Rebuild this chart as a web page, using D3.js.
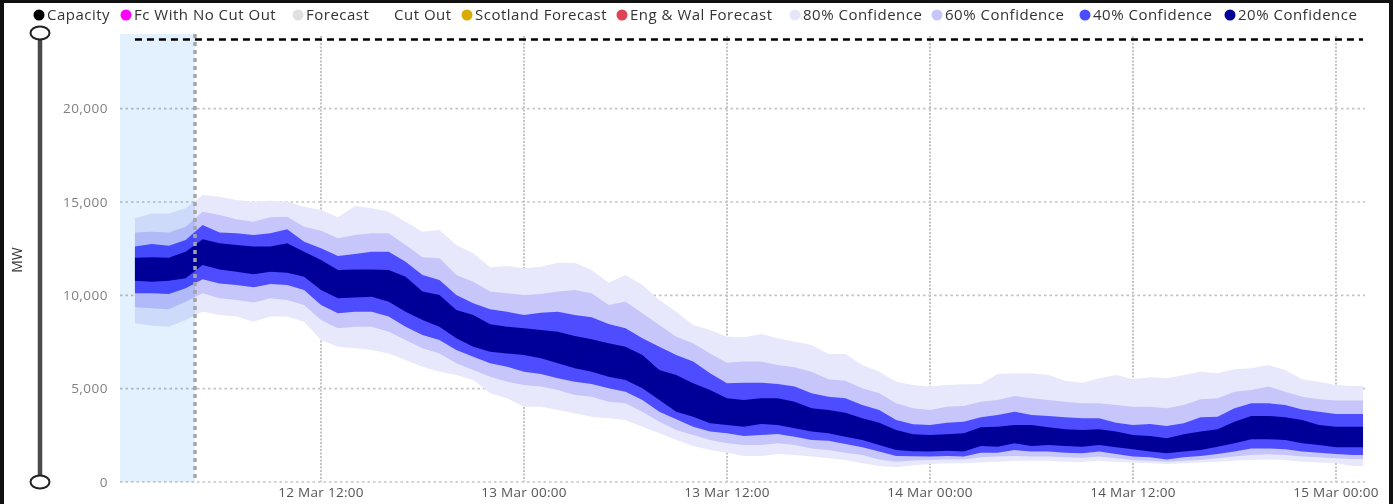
<!DOCTYPE html>
<html>
<head>
<meta charset="utf-8">
<script src="https://cdn.jsdelivr.net/npm/d3@7"></script>
<style>
  body { margin: 0; background: #fff; }
  svg { display: block; font-family: "Open Sans", "Noto Sans", sans-serif; }
</style>
</head>
<body>
<svg id="chart" width="1393" height="504"></svg>
<script>
// hourly forecast points, 12 Mar 01:00 onwards (last point 15 Mar 01:36)
var startTime = "2024-03-12T01:00";
var lastTime = "2024-03-15T01:36";
var nowTime = "2024-03-12T04:33";
var capacityMW = 23700;

var legendNames = ["Capacity", "Fc With No Cut Out", "Forecast", "Cut Out", "Scotland Forecast",
                   "Eng & Wal Forecast", "80% Confidence", "60% Confidence", "40% Confidence", "20% Confidence"];
var legendColors = ["#000000", "#ff00ff", "#e0e0e0", "#ffffff", "#d9ab00",
                    "#dd4455", "#e6e6fa", "#c6c6fa", "#4b4bff", "#000096"];

var yTicks = [0, 5000, 10000, 15000, 20000];

var hi80 = [14130,14390,14390,14660,15380,15280,15110,15020,15070,15020,14750,14570,14180,14790,14660,14480,13940,13410,13500,12700,
            12250,11500,11570,11450,11530,11750,11750,11360,10680,11090,10550,9750,9120,8410,8140,7780,7750,7930,7700,7520,
            7340,6860,6860,6270,5910,5370,5200,5110,5200,5230,5250,5790,5820,5820,5730,5430,5320,5560,5730,5500,
            5610,5560,5730,5910,5820,6040,6090,6270,6000,5500,5370,5200,5140,5140];
var hi60 = [13360,13410,13360,13680,14480,14300,14070,13940,14180,14210,13680,13460,13060,13230,13320,13320,12700,12040,11980,11090,
            10730,10200,10110,10020,10070,10200,10290,10110,9480,9660,9040,8410,7780,7430,6890,6390,6450,6450,6270,6150,
            5910,5500,5430,5020,4750,4220,3950,3860,4030,4070,4300,4390,4610,4480,4390,4300,4220,4220,4130,4030,
            4030,3950,4130,4430,4480,4840,4930,5110,4840,4570,4430,4360,4360,4360];
var hi40 = [12610,12750,12660,12960,13770,13360,13320,13230,13320,13540,12870,12520,12110,12210,12340,12340,11800,11090,10820,10020,
            9570,9260,9120,8950,9070,9120,8950,8820,8460,8230,7700,7250,6800,6450,5820,5290,5320,5320,5250,5110,
            4750,4570,4480,4130,3860,3320,3100,3050,3180,3230,3470,3590,3770,3590,3540,3470,3410,3410,3180,3050,
            3110,3000,3150,3470,3500,3950,4220,4220,4130,3890,3770,3640,3640,3640];
var hi20 = [12020,12040,12020,12340,13000,12790,12700,12610,12610,12790,12340,11890,11360,11390,11390,11360,11000,10200,10020,9210,
            8950,8450,8320,8230,8140,8050,7820,7650,7430,7250,6800,6000,5730,5290,4930,4480,4390,4480,4480,4300,
            3950,3860,3710,3410,3180,2790,2560,2520,2560,2610,2930,2960,3050,3050,2930,2820,2790,2820,2700,2520,
            2460,2340,2560,2700,2820,3230,3540,3540,3470,3320,3050,2960,2960,2960];
var lo20 = [10780,10730,10780,10910,11630,11390,11270,11130,11270,11210,11000,10290,9840,9890,9930,9660,9120,8680,8320,7700,
            7250,6980,6890,6800,6630,6360,6090,5910,5640,5460,5020,4390,3770,3500,3150,3050,2960,3110,3050,2880,
            2700,2610,2430,2250,1980,1710,1650,1630,1680,1630,1930,1890,2070,1930,1980,1930,1890,1980,1860,1750,
            1630,1540,1630,1710,1890,2070,2290,2290,2250,2070,1980,1860,1860,1860];
var lo40 = [10110,10110,10070,10380,10860,10640,10550,10430,10610,10550,10290,9480,9040,9120,9120,8860,8320,7880,7610,7070,
            6710,6360,6180,5910,5790,5560,5370,5250,5020,4840,4390,3770,3360,2960,2700,2610,2460,2520,2570,2430,
            2250,2210,2040,1860,1630,1390,1380,1360,1390,1360,1570,1570,1710,1630,1630,1570,1540,1630,1500,1360,
            1320,1210,1320,1390,1500,1630,1800,1800,1750,1630,1570,1500,1450,1450];
var lo60 = [9360,9310,9250,9660,10110,9840,9750,9610,9840,9750,9480,8680,8230,8320,8320,8050,7610,7160,6890,6360,
            6000,5640,5370,5200,5110,4930,4660,4570,4300,4220,3770,3230,2790,2520,2250,2070,1980,1980,2070,1980,
            1800,1710,1570,1450,1210,1090,1150,1180,1210,1210,1320,1360,1390,1360,1360,1320,1300,1360,1270,1180,
            1140,1090,1140,1180,1270,1360,1450,1480,1450,1360,1320,1270,1230,1230];
var lo80 = [8500,8370,8320,8680,9120,8950,8860,8590,8860,8860,8590,7610,7250,7160,7070,6890,6540,6180,5910,5730,
            5460,4750,4480,4030,4030,3860,3680,3500,3410,3320,2960,2610,2250,1930,1710,1570,1390,1390,1500,1450,
            1360,1270,1180,1000,860,790,900,960,1000,1000,1040,1090,1140,1140,1140,1090,1070,1140,1070,1040,
            1000,960,1000,1040,1090,1140,1180,1210,1180,1090,1040,1000,860,860];

var svg = d3.select("#chart"),
    width = +svg.attr("width"),
    height = +svg.attr("height");

var plotLeft = 120, plotRight = 1365, plotTop = 34, plotBottom = 482;

var parse = d3.utcParse("%Y-%m-%dT%H:%M");
var times = d3.utcHour.range(parse(startTime), d3.utcHour.offset(parse(startTime), hi80.length - 1));
times.push(parse(lastTime));

var x = d3.scaleUtc()
    .domain([parse("2024-03-12T00:07"), parse("2024-03-15T01:43")])
    .range([plotLeft, plotRight]);
var y = d3.scaleLinear().domain([0, 24000]).range([plotBottom, plotTop]);

// grid
svg.append("g").selectAll("line")
    .data(yTicks).enter().append("line")
    .attr("x1", plotLeft).attr("x2", plotRight)
    .attr("y1", function (d) {return y(d);}).attr("y2", function (d) {return y(d);})
    .style("stroke", "#c4c4c4").style("stroke-width", 1.6).style("stroke-dasharray", "2.5,3");

var xTicks = x.ticks(d3.utcHour.every(12));
svg.append("g").selectAll("line")
    .data(xTicks).enter().append("line")
    .attr("x1", function (d) {return x(d);}).attr("x2", function (d) {return x(d);})
    .attr("y1", plotTop + 2).attr("y2", plotBottom)
    .style("stroke", "#c4c4c4").style("stroke-width", 2).style("stroke-dasharray", "2,1.5");

// confidence bands
var bands = [
    {lo: lo80, hi: hi80, color: "#e8e8fc"},
    {lo: lo60, hi: hi60, color: "#c6c6fb"},
    {lo: lo40, hi: hi40, color: "#4d4dff"},
    {lo: lo20, hi: hi20, color: "#000099"}
];
bands.forEach(function (b) {
    var area = d3.area()
        .x(function (d, i) {return x(times[i]);})
        .y0(function (d, i) {return y(b.lo[i]);})
        .y1(function (d, i) {return y(b.hi[i]);});
    svg.append("path").datum(times).attr("d", area).style("fill", b.color);
});

// history shading + now line
svg.append("rect")
    .attr("x", plotLeft).attr("y", plotTop)
    .attr("width", x(parse(nowTime)) - plotLeft).attr("height", plotBottom - plotTop)
    .style("fill", "#e3f0fd").style("mix-blend-mode", "multiply");
svg.append("line")
    .attr("x1", x(parse(nowTime))).attr("x2", x(parse(nowTime)))
    .attr("y1", plotTop).attr("y2", plotBottom)
    .style("stroke", "#a4a4a4").style("stroke-width", 3.5).style("stroke-dasharray", "4,4");

// capacity
svg.append("line")
    .attr("x1", x(times[0])).attr("x2", x(times[times.length - 1]))
    .attr("y1", y(capacityMW)).attr("y2", y(capacityMW))
    .style("stroke", "#000").style("stroke-width", 2.5).style("stroke-dasharray", "7,5");

// y labels
svg.append("g").selectAll("text")
    .data(yTicks).enter().append("text")
    .attr("x", 108).attr("y", function (d) {return y(d);})
    .attr("dy", "0.35em").attr("text-anchor", "end")
    .style("font-size", "13.5px").style("letter-spacing", "0.5px").style("fill", "#808080")
    .text(function (d) {return d3.format(",")(d);});

// x labels
var fmt = d3.utcFormat("%d Mar %H:%M");
svg.append("g").selectAll("text")
    .data(xTicks).enter().append("text")
    .attr("x", function (d) {return x(d);}).attr("y", 497)
    .attr("text-anchor", "middle")
    .style("font-size", "13.5px").style("letter-spacing", "0.3px").style("fill", "#555")
    .text(function (d) {return fmt(d).replace(/^0/, "");});

svg.append("text")
    .attr("transform", "translate(22,260) rotate(-90)")
    .attr("text-anchor", "middle")
    .style("font-size", "14px").style("fill", "#333")
    .text("MW");

// range slider
svg.append("line").attr("x1", 40).attr("x2", 40).attr("y1", plotTop).attr("y2", plotBottom)
    .style("stroke", "#4a4a4a").style("stroke-width", 4.5);
[plotTop - 1, plotBottom].forEach(function (cy) {
    svg.append("ellipse").attr("cx", 40).attr("cy", cy).attr("rx", 9.5).attr("ry", 6.5)
        .style("fill", "#fff").style("stroke", "#222").style("stroke-width", 2);
});

// legend
var legendX = [39, 126, 298, 386, 467, 622, 795, 937, 1085, 1230];
var legend = svg.append("g").selectAll("g")
    .data(legendNames).enter().append("g")
    .attr("transform", function (d, i) {return "translate(" + legendX[i] + ",15)";});
legend.append("circle").attr("r", 5.5)
    .style("fill", function (d, i) {return legendColors[i];});
legend.append("text").attr("x", 8).attr("dy", "0.35em")
    .style("font-size", "15px").style("letter-spacing", "0.5px").style("fill", "#333")
    .text(function (d) {return d;});

// frame
svg.append("rect").attr("x", 0).attr("y", 0).attr("width", 4).attr("height", height).style("fill", "#111");
svg.append("rect").attr("x", 0).attr("y", 0).attr("width", width).attr("height", 3).style("fill", "#111");
svg.append("rect").attr("x", 1389).attr("y", 0).attr("width", 4).attr("height", height).style("fill", "#111");
</script>
</body>
</html>
